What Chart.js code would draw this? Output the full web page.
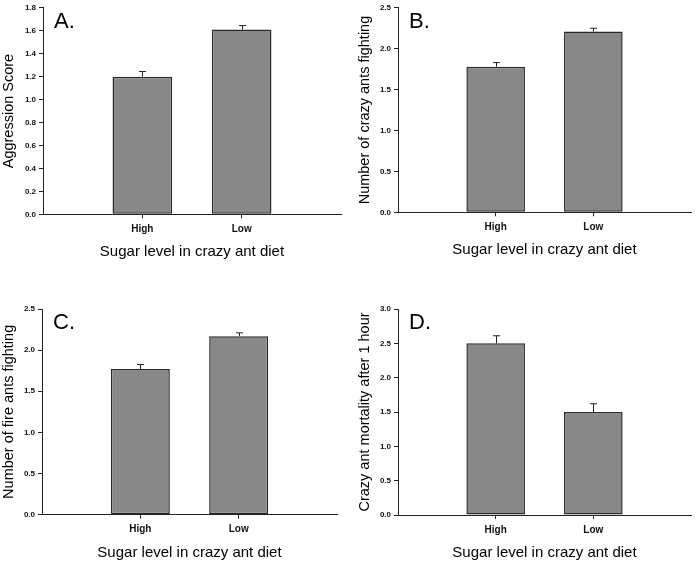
<!DOCTYPE html>
<html>
<head>
<meta charset="utf-8">
<script src="https://cdn.jsdelivr.net/npm/chart.js@4"></script>
<style>
  html, body { margin: 0; padding: 0; background: #fff; overflow: hidden; }
  body { width: 697px; height: 563px; position: relative; }
  .panel { position: absolute; }
</style>
</head>
<body>
<div class="panel" style="left:0;top:0;width:348px;height:280px"><canvas id="chartA"></canvas></div>
<div class="panel" style="left:348px;top:0;width:349px;height:280px"><canvas id="chartB"></canvas></div>
<div class="panel" style="left:0;top:280px;width:348px;height:290px"><canvas id="chartC"></canvas></div>
<div class="panel" style="left:348px;top:280px;width:349px;height:290px"><canvas id="chartD"></canvas></div>
<script>
// Data
const categories = ["High", "Low"];

const aggression = [1.2, 1.61];
const aggressionErr = [0.045, 0.035];

const crazyFighting = [1.78, 2.21];
const crazyFightingErr = [0.05, 0.04];

const fireFighting = [1.77, 2.17];
const fireFightingErr = [0.055, 0.04];

const mortality = [2.5, 1.5];
const mortalityErr = [0.11, 0.12];

const xTitle = "Sugar level in crazy ant diet";
const FONT = "'Liberation Sans', Arial, sans-serif";
const INK = "#222";

// Upward-only error bars with a small cap
const errorBars = {
  id: "errorBars",
  afterDatasetsDraw(chart) {
    const ctx = chart.ctx;
    const y = chart.scales.y;
    const ds = chart.data.datasets[0];
    const meta = chart.getDatasetMeta(0);
    ctx.save();
    ctx.strokeStyle = INK;
    ctx.lineWidth = 1;
    meta.data.forEach((bar, i) => {
      const v = ds.data[i];
      if (v == null) return;
      const top = y.getPixelForValue(v + ds.errors[i]);
      const base = y.getPixelForValue(v);
      const x = Math.round(bar.x) + 0.5;
      ctx.beginPath();
      ctx.moveTo(x, base);
      ctx.lineTo(x, top);
      ctx.moveTo(x - 3.5, top);
      ctx.lineTo(x + 3.5, top);
      ctx.stroke();
    });
    ctx.restore();
  }
};

// Panel letter in the top-left corner of the plot area
const panelLetter = {
  id: "panelLetter",
  afterDraw(chart, args, opts) {
    const ctx = chart.ctx;
    ctx.save();
    ctx.fillStyle = "#000";
    ctx.font = "22px " + FONT;
    ctx.textBaseline = "alphabetic";
    ctx.fillText(opts.text, chart.chartArea.left + 11, chart.chartArea.top + 20);
    ctx.restore();
  }
};

function makePanel(id, letter, yTitle, values, errors, yMax, yStep, box) {
  // box: yWidth, titleOffset, padTop, padRight, padBottom
  const labels = [""].concat(categories, [""]);
  const data = [null].concat(values, [null]);

  return new Chart(document.getElementById(id), {
    type: "bar",
    data: {
      labels: labels,
      datasets: [{
        data: data,
        errors: [0].concat(errors, [0]),
        backgroundColor: "#888888",
        borderColor: "#2a2a2a",
        borderWidth: 1.5,
        borderSkipped: false,
        categoryPercentage: 1,
        barPercentage: 0.6
      }]
    },
    options: {
      responsive: true,
      maintainAspectRatio: false,
      animation: false,
      events: [],
      layout: {
        padding: { left: 0, top: box.padTop, right: box.padRight, bottom: box.padBottom }
      },
      plugins: {
        legend: { display: false },
        tooltip: { enabled: false },
        panelLetter: { text: letter }
      },
      scales: {
        x: {
          offset: false,
          grid: {
            offset: false,
            drawOnChartArea: false,
            tickLength: 4,
            color: (c) => (c.index === 1 || c.index === 2) ? INK : "rgba(0,0,0,0)"
          },
          border: { color: INK, width: 1 },
          ticks: {
            padding: 5,
            color: "#111",
            font: { family: FONT, size: 10, weight: "bold" },
            maxRotation: 0,
            autoSkip: false
          },
          title: {
            display: true,
            text: xTitle,
            color: "#000",
            font: { family: FONT, size: 15 },
            padding: { top: 0, bottom: 3 }
          },
          afterFit(scale) { scale.height = 50; }
        },
        y: {
          min: 0,
          max: yMax,
          grid: {
            drawOnChartArea: false,
            tickLength: 4,
            color: INK
          },
          border: { color: INK, width: 1 },
          ticks: {
            stepSize: yStep,
            padding: 3,
            color: "#111",
            font: { family: FONT, size: 8, weight: "bold" },
            callback: (v) => Number(v).toFixed(1)
          },
          title: {
            display: true,
            text: yTitle,
            color: "#000",
            font: { family: FONT, size: 14.5 },
            padding: { top: box.titleOffset, bottom: 0 }
          },
          afterFit(scale) { scale.width = box.yWidth; }
        }
      }
    },
    plugins: [errorBars, panelLetter]
  });
}

makePanel("chartA", "A.", "Aggression Score", aggression, aggressionErr, 1.8, 0.2,
  { yWidth: 43, titleOffset: 0.3, padTop: 6.7, padRight: 7, padBottom: 15.7 });
makePanel("chartB", "B.", "Number of crazy ants fighting", crazyFighting, crazyFightingErr, 2.5, 0.5,
  { yWidth: 50, titleOffset: 8.3, padTop: 5.7, padRight: 6, padBottom: 17.7 });
makePanel("chartC", "C.", "Number of fire ants fighting", fireFighting, fireFightingErr, 2.5, 0.5,
  { yWidth: 42, titleOffset: 0.3, padTop: 29, padRight: 11, padBottom: 5.3 });
makePanel("chartD", "D.", "Crazy ant mortality after 1 hour", mortality, mortalityErr, 3.0, 0.5,
  { yWidth: 50, titleOffset: 8.3, padTop: 29, padRight: 6, padBottom: 5 });
</script>
</body>
</html>
